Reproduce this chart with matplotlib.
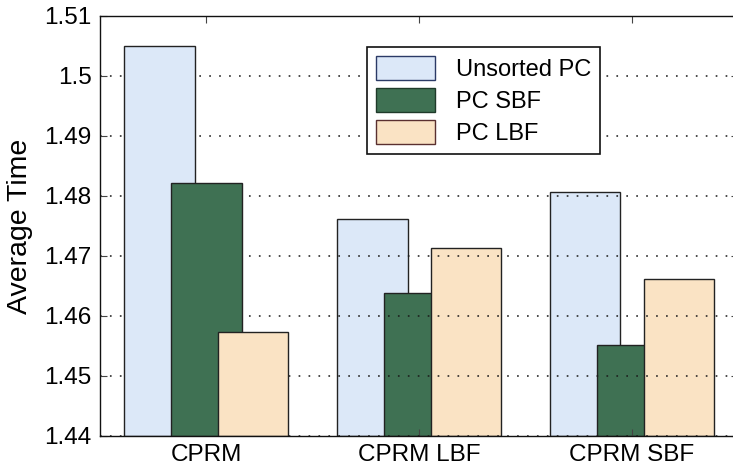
import matplotlib
matplotlib.use("Agg")
import matplotlib.pyplot as plt
import numpy as np
from matplotlib.ticker import FuncFormatter, FixedLocator
from matplotlib.patches import Patch

categories = ["CPRM", "CPRM LBF", "CPRM SBF"]
series_names = ["Unsorted PC", "PC SBF", "PC LBF"]
unsorted_pc = [1.5050, 1.4761, 1.4807]
pc_sbf = [1.4822, 1.4638, 1.4552]
pc_lbf = [1.4573, 1.4713, 1.4661]
yticks = [1.44, 1.45, 1.46, 1.47, 1.48, 1.49, 1.50, 1.51]

colors = ["#dce8f8", "#3f7153", "#fae3c4"]
legend_edges = ["#2b3a66", "#1f3a2a", "#5a3030"]

plt.rcParams['font.family'] = ['Liberation Sans', 'DejaVu Sans']

fig = plt.figure(figsize=(7.33, 4.70), dpi=100)
ax = fig.add_axes([100/733, 34/470, 638.5/733, 420/470])

x = np.arange(1, len(categories) + 1)
offsets = [-0.22, 0.0, 0.22]
width = 0.33
series = [unsorted_pc, pc_sbf, pc_lbf]
base = 1.44
for i, vals in enumerate(series):
    heights = np.array(vals) - base
    bars = ax.bar(x + offsets[i], heights, width, bottom=base, color=colors[i],
                  edgecolor="#222222", linewidth=1.0, zorder=2)
    # first group's bars hide the grid
    bars.patches[0].set_zorder(3)

ax.set_xlim(0.5, 3.5)
ax.set_ylim(1.44, 1.51)
ax.yaxis.set_major_locator(FixedLocator(yticks))
ax.yaxis.set_major_formatter(FuncFormatter(lambda v, p: "%g" % round(v, 4)))
ax.set_xticks(x)
ax.set_xticklabels(categories)

ax.grid(axis='y', color='#1a1a1a', linestyle=(0, (1.1, 5.4)), linewidth=1.1, zorder=2.5)
ax.set_axisbelow(False)
for gl in ax.get_ygridlines():
    gl.set_zorder(2.5)

ax.tick_params(axis='both', direction='in', length=5, width=0.8, color='#444444',
               labelsize=17.5, top=True, right=True, pad=6)
ax.set_ylabel("Average Time", fontsize=20.5, labelpad=8)
for s in ax.spines.values():
    s.set_linewidth(1.0)
    s.set_color('#111111')
    s.set_zorder(4)
ax.spines['right'].set_visible(False)

handles = [Patch(facecolor=colors[i], edgecolor=legend_edges[i], linewidth=1.0)
           for i in range(3)]
leg = ax.legend(handles, series_names, loc='upper left',
                bbox_to_anchor=(367/733, 1 - 47/470), bbox_transform=fig.transFigure,
                fontsize=17, frameon=True, fancybox=False, framealpha=1,
                edgecolor='#111111', handlelength=2.5, handleheight=1.2,
                handletextpad=0.9, labelspacing=0.3, borderpad=0.38, borderaxespad=0)
leg.get_frame().set_linewidth(1.2)
leg.set_zorder(5)

fig.savefig("out.png", dpi=100)
